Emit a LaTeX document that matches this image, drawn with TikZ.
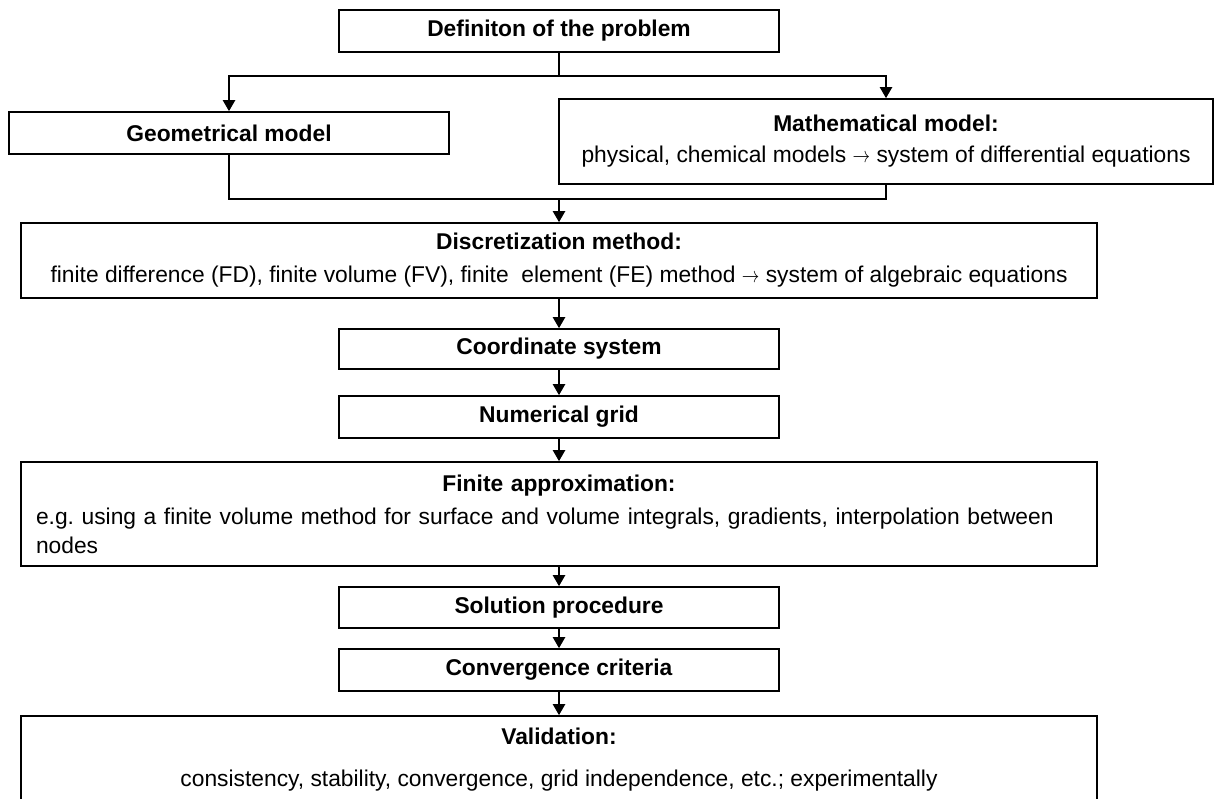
\documentclass[tikz,border=0pt]{standalone}
\usepackage{fontspec}
\setmainfont{Liberation Sans}
\usetikzlibrary{arrows.meta,positioning}
\newcommand{\toarrow}{\scalebox{0.8}[1]{$\rightarrow$}}

\begin{document}
\begin{tikzpicture}[
  x=0.5pt, y=-0.5pt,
  >={Triangle[length=5.5pt,width=6pt]},
  font=\fontsize{11.4}{14}\selectfont\frenchspacing,
  box/.style={draw, line width=0.8pt, inner sep=0pt, align=center},
  smallbox/.style={box, minimum width=220pt, minimum height=21pt},
  widebox/.style={box, minimum width=538pt},
  link/.style={line width=1.1pt},
  flow/.style={link, ->}
]
  % page frame (pixel units, y downwards)
  \fill[white] (0,0) rectangle (1214,798);
  \useasboundingbox (0,0) rectangle (1214,798);
  \clip (0,0) rectangle (1214,798);

  % Modelling
  \node[smallbox] (def) at (559,31) {\textbf{Definiton of the problem}};
  \node[smallbox] (geom) at (229,133) {\textbf{Geometrical model}};
  \node[box, minimum width=327pt, minimum height=42.5pt] (math) at (886,141.5)
    {\textbf{Mathematical model:}\\[1.5pt]
     physical, chemical models \toarrow{} system of differential equations};

  % Discretization and solution
  \node[widebox, minimum height=37.5pt] (disc) at (559,260.5)
    {\textbf{Discretization method:}\\[2.5pt]
     finite difference (FD), finite volume (FV), finite\ \ element (FE) method \toarrow{} system of algebraic equations};
  \node[smallbox, minimum height=20pt] (coord) at (559,349) {\textbf{Coordinate system}};
  \node[smallbox] (grid) at (559,417) {\textbf{Numerical grid}};
  \node[box, align=left, text width=523pt, inner xsep=7.5pt, minimum height=52pt] (approx) at (559,514)
    {\makebox[\linewidth][c]{\textbf{Finite approximation:}}\\[2.5pt]
     e.g. using a finite volume method for surface and volume integrals, gradients, interpolation between\\[0.5pt]
     nodes};
  \node[smallbox, minimum height=20.5pt] (sol) at (559,607.5) {\textbf{Solution procedure}};
  \node[smallbox] (conv) at (559,670) {\textbf{Convergence criteria}};
  \node[widebox, minimum height=44pt] (valid) at (559,760)
    {\textbf{Validation:}\\[7pt]
     consistency, stability, convergence, grid independence, etc.; experimentally};

  % Connectors
  \coordinate (split) at (559,76);
  \coordinate (join) at (559,199);
  \draw[link] (def) -- (split);
  \draw[flow] (split) -| (geom);
  \draw[flow] (split) -| (math);
  \draw[link] (geom) |- (join);
  \draw[link] (math) |- (join);
  \draw[flow] (join) -- (disc);
  \foreach \a/\b in {disc/coord, coord/grid, grid/approx, approx/sol, sol/conv, conv/valid}
    \draw[flow] (\a) -- (\b);
\end{tikzpicture}
\end{document}
